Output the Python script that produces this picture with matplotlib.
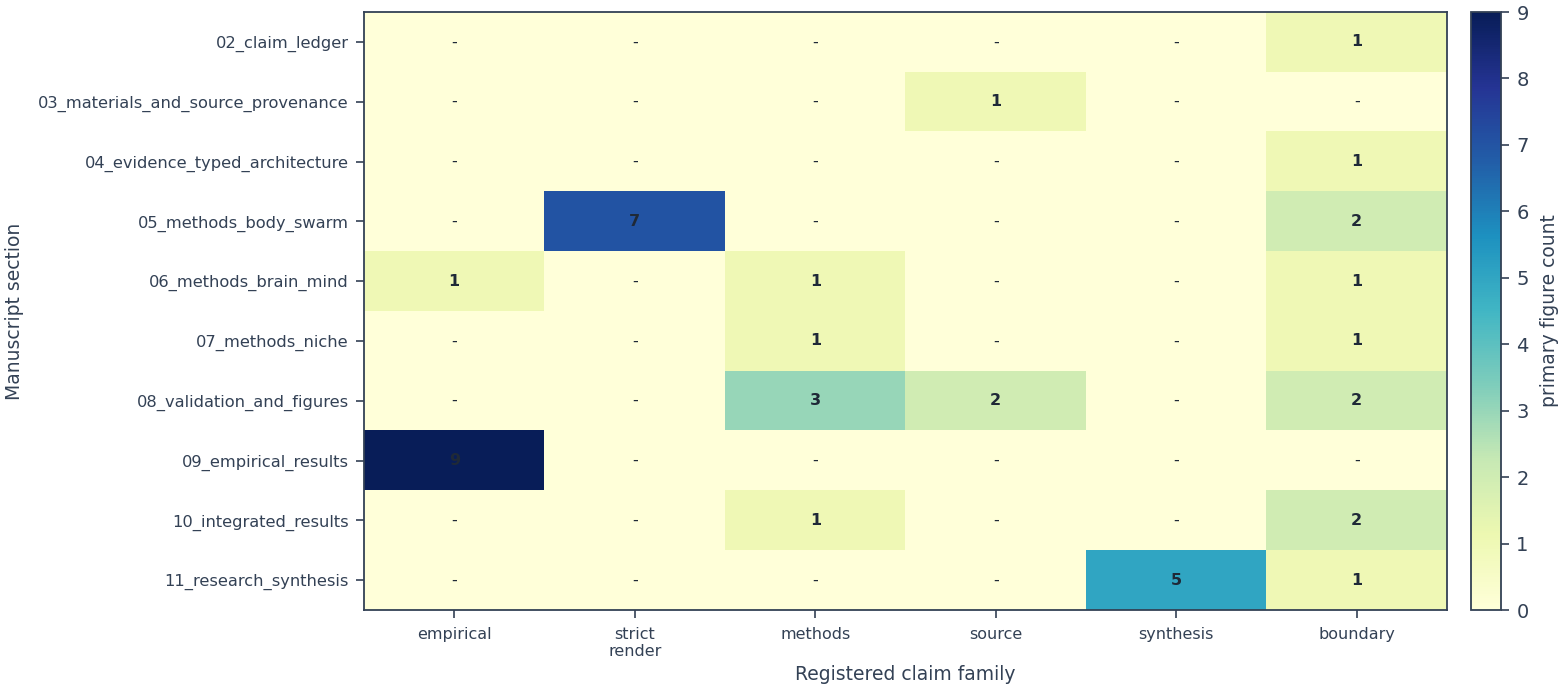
import numpy as np
import matplotlib
matplotlib.use('Agg')
import matplotlib.pyplot as plt

sections = ['02_claim_ledger', '03_materials_and_source_provenance',
            '04_evidence_typed_architecture', '05_methods_body_swarm',
            '06_methods_brain_mind', '07_methods_niche',
            '08_validation_and_figures', '09_empirical_results',
            '10_integrated_results', '11_research_synthesis']
families = ['empirical', 'strict\nrender', 'methods', 'source', 'synthesis', 'boundary']

# primary figure counts per section (rows) and claim family (columns)
counts = [
    [0, 0, 0, 0, 0, 1],
    [0, 0, 0, 1, 0, 0],
    [0, 0, 0, 0, 0, 1],
    [0, 7, 0, 0, 0, 2],
    [1, 0, 1, 0, 0, 1],
    [0, 0, 1, 0, 0, 1],
    [0, 0, 3, 2, 0, 2],
    [9, 0, 0, 0, 0, 0],
    [0, 0, 1, 0, 0, 2],
    [0, 0, 0, 0, 5, 1],
]

ink = '#334155'
plt.rcParams['font.family'] = ['DejaVu Sans']
plt.rcParams['text.color'] = ink
plt.rcParams['axes.labelcolor'] = ink
plt.rcParams['xtick.color'] = ink
plt.rcParams['ytick.color'] = ink
plt.rcParams['axes.edgecolor'] = ink

data = np.array(counts)

fig = plt.figure(figsize=(15.67, 6.87), dpi=100)
ax = fig.add_axes([364/1567, 1 - 610/687, (1447-364)/1567, (610-12)/687])
cax = fig.add_axes([1471/1567, 1 - 610/687, 30/1567, (610-12)/687])

im = ax.imshow(data, cmap='YlGnBu', vmin=0, vmax=9, aspect='auto')

for i in range(data.shape[0]):
    for j in range(data.shape[1]):
        v = data[i, j]
        if v == 0:
            ax.text(j, i, '-', ha='center', va='center', fontsize=11.5, color='#1f2937')
        else:
            ax.text(j, i, str(v), ha='center', va='center', fontsize=11.5,
                    fontweight='bold', color='#1f2937')

ax.set_xticks(range(len(families)))
ax.set_xticklabels(families, fontsize=11.5)
ax.set_yticks(range(len(sections)))
ax.set_yticklabels(sections, fontsize=11.7)
ax.tick_params(axis='y', length=6, width=1.2, pad=5)
ax.tick_params(axis='x', length=6, width=1.2, pad=6)
ax.set_xlabel('Registered claim family', fontsize=13.5, labelpad=4)
ax.set_ylabel('Manuscript section', fontsize=13.5, labelpad=10)
for s in ax.spines.values():
    s.set_linewidth(1.3)

cb = fig.colorbar(im, cax=cax)
cb.set_ticks(range(10))
cb.ax.tick_params(labelsize=14, length=6, width=1.2, pad=5)
cb.set_label('primary figure count', fontsize=13.5, labelpad=8)
cb.outline.set_linewidth(1.3)
cb.outline.set_edgecolor(ink)

fig.savefig('out.png', dpi=100)
